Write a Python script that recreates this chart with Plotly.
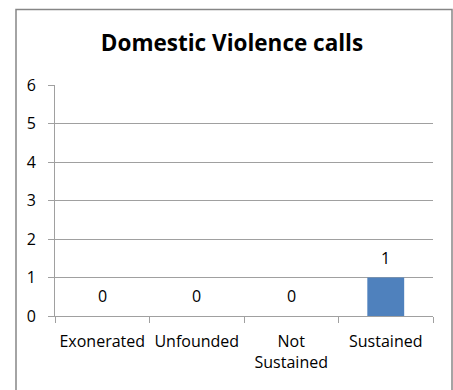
import plotly.graph_objects as go

categories = ["Exonerated", "Unfounded", "Not<br>Sustained", "Sustained"]
values = [0, 0, 0, 1]
y_ticks = [0, 1, 2, 3, 4, 5, 6]

FONT = "Open Sans"
FS = 16
L, R, T, B = 55, 20, 84.5, 74.3
W, H = 453, 390
pw = W - L - R
ph = H - T - B

fig = go.Figure()
fig.add_trace(go.Bar(x=categories, y=values, marker=dict(color="#4F81BD", line=dict(width=0)),
                     width=0.39, hoverinfo="skip"))

for c, v in zip(categories, values):
    fig.add_annotation(x=c, y=v, text=str(v), showarrow=False, yanchor="middle", yshift=20,
                       font=dict(family=FONT, size=FS, color="#000"))

# outer chart border
fig.add_shape(type="rect", xref="paper", yref="paper",
              x0=(16 - L) / pw, x1=(452 - L) / pw,
              y0=-0.6, y1=(H - B - 9) / ph,
              line=dict(color="#868686", width=1.5), fillcolor="rgba(0,0,0,0)", layer="below")

fig.update_layout(
    width=W, height=H,
    margin=dict(l=L, r=R, t=T, b=B, pad=0, autoexpand=False),
    paper_bgcolor="white", plot_bgcolor="white",
    showlegend=False,
    title=dict(text="<b>Domestic Violence calls</b>", x=(232 - L) / pw, xref="paper", xanchor="center",
               y=1 - 43 / H, yanchor="middle", font=dict(family=FONT, size=22.5, color="#000")),
    font=dict(family=FONT, size=FS, color="#000"),
    bargap=0.6,
)
fig.update_yaxes(range=[0, 6], tickvals=y_ticks, showgrid=True, gridcolor="#A0A0A0", gridwidth=1,
                 showline=True, linecolor="#A0A0A0", linewidth=1, ticks="outside", ticklen=6,
                 tickcolor="#A0A0A0", zeroline=False, tickfont=dict(family=FONT, size=FS),
                 ticklabelstandoff=9, automargin=False, fixedrange=True)
fig.update_xaxes(showline=True, linecolor="#A0A0A0", linewidth=1, ticks="outside", ticklen=6,
                 tickcolor="#A0A0A0", tickson="boundaries", showgrid=False, tickangle=0,
                 tickfont=dict(family=FONT, size=FS), ticklabelstandoff=11, automargin=False,
                 fixedrange=True)

fig.write_html("out.html")
